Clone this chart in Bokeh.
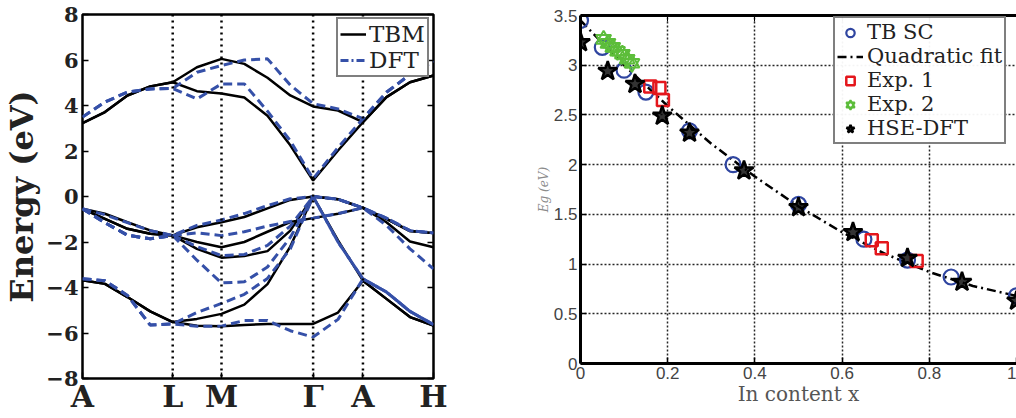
from bokeh.plotting import figure
from bokeh.layouts import row, column
from bokeh.models import Span, Legend, LegendItem, LinearAxis, FixedTicker, Range1d
from bokeh.embed import file_html
from bokeh.resources import INLINE

# ---------------- left panel data (band structure) ----------------
K = [0.0, 0.064, 0.128, 0.193, 0.257, 0.326, 0.396, 0.461, 0.527, 0.592,
     0.657, 0.728, 0.799, 0.866, 0.933, 1.0]
K_TICKS = [0.0, 0.257, 0.396, 0.657, 0.799, 1.0]
K_LABELS = ["A", "L", "M", "Γ", "A", "H"]
E_TICKS = [-8, -6, -4, -2, 0, 2, 4, 6, 8]
E_TICK_LABELS = ["−8", "−6", "−4", "−2", "0", "2", "4", "6", "8"]

tbm_c1 = [3.22, 3.71, 4.44, 4.84, 5.02, 4.63, 4.53, 4.35, 3.55, 2.25, 0.70, 2.02, 3.27, 4.37, 5.02, 5.32]
tbm_c2 = [3.22, 3.71, 4.44, 4.84, 5.02, 5.68, 6.05, 5.83, 5.22, 4.44, 3.96, 3.78, 3.27, 4.37, 5.02, 5.32]
tbm_v1 = [-0.54, -0.76, -1.13, -1.49, -1.71, -1.35, -1.13, -0.90, -0.52, -0.15, 0.0, -0.12, -0.50, -0.98, -1.52, -1.61]
tbm_v2 = [-0.54, -0.98, -1.42, -1.64, -1.71, -2.00, -2.23, -2.00, -1.55, -1.12, -0.95, -0.76, -0.50, -1.13, -1.98, -2.23]
tbm_v3 = [-0.54, -0.98, -1.42, -1.64, -1.71, -2.30, -2.69, -2.62, -2.40, -1.50, 0.0, -0.12, -0.50, -0.98, -1.52, -1.61]
tbm_v4 = [-3.68, -3.84, -4.42, -5.05, -5.52, -5.38, -5.16, -4.75, -3.85, -2.20, 0.0, -1.93, -3.70, -4.50, -5.30, -5.67]
tbm_v5 = [-3.68, -3.84, -4.42, -5.05, -5.52, -5.68, -5.70, -5.65, -5.60, -5.60, -5.60, -5.10, -3.70, -4.50, -5.30, -5.67]

dft_c1 = [3.49, 4.15, 4.59, 4.73, 4.75, 4.29, 4.95, 4.95, 3.75, 2.45, 0.78, 2.15, 3.42, 4.58, 5.36, 5.95]
dft_c2 = [3.49, 4.15, 4.59, 4.73, 4.75, 5.46, 5.76, 6.00, 6.05, 4.90, 4.08, 3.85, 3.42, 4.58, 5.36, 5.95]
dft_v1 = [-0.54, -0.80, -1.15, -1.50, -1.71, -1.27, -1.03, -0.75, -0.40, -0.10, 0.0, -0.12, -0.50, -0.95, -1.50, -1.60]
dft_v2 = [-0.54, -1.15, -1.70, -1.86, -1.71, -1.60, -1.72, -1.55, -1.30, -1.10, -0.95, -0.75, -0.50, -1.27, -2.30, -3.18]
dft_v3 = [-0.54, -1.15, -1.70, -1.86, -1.71, -2.20, -2.60, -2.55, -2.15, -1.30, 0.0, -0.12, -0.50, -0.95, -1.50, -1.60]
dft_v4 = [-0.54, -1.15, -1.70, -1.86, -1.71, -2.80, -3.80, -3.75, -3.10, -1.80, 0.0, -2.00, -3.62, -4.20, -5.05, -5.63]
dft_v5 = [-3.62, -3.70, -4.35, -5.65, -5.60, -5.10, -4.70, -4.30, -3.60, -2.30, 0.0, -2.00, -3.62, -4.20, -5.05, -5.63]
dft_v6 = [-3.62, -3.70, -4.35, -5.65, -5.60, -5.70, -5.70, -5.45, -5.45, -5.90, -6.18, -5.40, -3.62, -4.20, -5.05, -5.63]

TBM_BANDS = [tbm_c1, tbm_c2, tbm_v1, tbm_v2, tbm_v3, tbm_v4, tbm_v5]
DFT_BANDS = [dft_c1, dft_c2, dft_v1, dft_v2, dft_v3, dft_v4, dft_v5, dft_v6]

# ---------------- right panel data (band gap vs In content) ----------------
tb_x = [0.0, 0.05, 0.10, 0.15, 0.25, 0.35, 0.50, 0.65, 0.75, 0.85, 1.0]
tb_y = [3.45, 3.18, 2.95, 2.73, 2.34, 2.00, 1.60, 1.25, 1.04, 0.87, 0.68]
fit_x = [0.0, 0.1, 0.2, 0.3, 0.4, 0.5, 0.6, 0.7, 0.8, 0.9, 1.0]
fit_y = [3.45, 3.00, 2.59, 2.21, 1.88, 1.58, 1.32, 1.10, 0.92, 0.78, 0.68]
exp1_x = [0.160, 0.181, 0.189, 0.668, 0.691, 0.771]
exp1_y = [2.785, 2.77, 2.65, 1.24, 1.16, 1.03]
exp2_x = [0.053, 0.063, 0.074, 0.085, 0.096, 0.107, 0.118]
exp2_y = [3.26, 3.22, 3.18, 3.14, 3.11, 3.06, 3.02]
hse_x = [0.0, 0.0625, 0.125, 0.1875, 0.25, 0.375, 0.5, 0.625, 0.75, 0.875, 1.0]
hse_y = [3.23, 2.94, 2.81, 2.49, 2.32, 1.94, 1.57, 1.32, 1.06, 0.82, 0.63]
X_TICKS = [0, 0.2, 0.4, 0.6, 0.8, 1.0]
X_TICK_LABELS = ["0", "0.2", "0.4", "0.6", "0.8", "1"]
Y_TICKS = [0, 0.5, 1.0, 1.5, 2.0, 2.5, 3.0, 3.5]
Y_TICK_LABELS = ["0", "0.5", "1", "1.5", "2", "2.5", "3", "3.5"]

BLUE = "#3550a8"
SERIF = "DejaVu Serif"
NAN = float("nan")

# ================= left figure =================
left = figure(width=520, height=416, x_range=Range1d(0, 1), y_range=Range1d(-8, 8),
              output_backend="svg", toolbar_location=None,
              min_border_left=79, min_border_right=87, min_border_top=14, min_border_bottom=38)
left.xgrid.visible = False
left.ygrid.visible = False
left.outline_line_color = "black"
left.outline_line_width = 2.5
left.outline_line_alpha = 1

left.yaxis.ticker = FixedTicker(ticks=E_TICKS)
left.yaxis.major_label_overrides = dict(zip(E_TICKS, E_TICK_LABELS))
left.xaxis.ticker = FixedTicker(ticks=K_TICKS)
left.xaxis.major_label_overrides = dict(zip(K_TICKS, K_LABELS))
for ax in (left.xaxis[0], left.yaxis[0]):
    ax.axis_line_color = None
    ax.major_tick_in = 6
    ax.major_tick_out = 0
    ax.minor_tick_line_color = None
    ax.major_tick_line_width = 1.5
    ax.major_tick_line_color = "black"
    ax.major_label_text_font = SERIF
    ax.major_label_text_font_style = "bold"
    ax.major_label_text_color = "#222222"
left.yaxis.major_label_text_font_size = "21px"
left.yaxis.major_label_standoff = 4
left.yaxis.axis_label = "Energy (eV)"
left.yaxis.axis_label_text_font = SERIF
left.yaxis.axis_label_text_font_style = "bold"
left.yaxis.axis_label_text_font_size = "32px"
left.yaxis.axis_label_text_color = "#222222"
left.yaxis.axis_label_standoff = 2
left.xaxis.major_label_text_font_size = "30px"
left.xaxis.major_label_standoff = 0

rax = LinearAxis(ticker=FixedTicker(ticks=E_TICKS), axis_line_color=None,
                 major_tick_in=6, major_tick_out=0, minor_tick_line_color=None,
                 major_tick_line_width=1.5,
                 major_label_overrides={t: "" for t in E_TICKS})
left.add_layout(rax, "right")

for k in K_TICKS[1:5]:
    left.add_layout(Span(location=k, dimension="height", line_color="black",
                         line_dash="2 4", line_width=2.5))

tbm_renderers = []
for band in TBM_BANDS:
    tbm_renderers.append(left.line(K, band, line_color="black", line_width=2.5))
for band in DFT_BANDS:
    left.line(K, band, line_color=BLUE, line_width=3, line_dash="9 5")
# legend proxy (no visible points)
dft_legend_r = left.line(K[:2], [NAN, NAN], line_color=BLUE, line_width=3, line_dash="8 3 2 3")

leg_l = Legend(items=[LegendItem(label="TBM", renderers=[tbm_renderers[0]]),
                      LegendItem(label="DFT", renderers=[dft_legend_r])],
               location=(254, 301), orientation="vertical")
leg_l.border_line_color = "black"
leg_l.border_line_width = 2
leg_l.label_text_font = SERIF
leg_l.label_text_font_size = "23px"
leg_l.label_text_color = "#222222"
leg_l.padding = 2
leg_l.spacing = -4
leg_l.margin = 0
leg_l.glyph_width = 26
leg_l.glyph_height = 22
leg_l.label_height = 22
leg_l.label_standoff = 3
leg_l.background_fill_alpha = 1
left.add_layout(leg_l)

# ================= right figure =================
right = figure(width=496, height=416, x_range=Range1d(0, 1), y_range=Range1d(0, 3.5),
               output_backend="svg", toolbar_location=None,
               min_border_left=60, min_border_right=0, min_border_top=15, min_border_bottom=53)
right.outline_line_color = None
right.xaxis.ticker = FixedTicker(ticks=X_TICKS)
right.xaxis.major_label_overrides = dict(zip(X_TICKS, X_TICK_LABELS))
right.yaxis.ticker = FixedTicker(ticks=Y_TICKS)
right.yaxis.major_label_overrides = dict(zip(Y_TICKS, Y_TICK_LABELS))
for ax in (right.xaxis[0], right.yaxis[0]):
    ax.axis_line_color = "black"
    ax.axis_line_width = 3
    ax.major_tick_in = 6
    ax.major_tick_out = 0
    ax.minor_tick_line_color = None
    ax.major_tick_line_width = 1.5
    ax.major_label_text_font = "Liberation Sans"
    ax.major_label_text_font_size = "17px"
    ax.major_label_text_color = "#444444"
    ax.major_label_standoff = 3
right.xaxis.axis_label = "In content x"
right.xaxis.axis_label_text_font = SERIF
right.xaxis.axis_label_text_font_style = "normal"
right.xaxis.axis_label_text_font_size = "20px"
right.xaxis.axis_label_text_color = "#555555"
right.xaxis.axis_label_standoff = 0
right.yaxis.axis_label = "Eg (eV)"
right.yaxis.axis_label_text_font = SERIF
right.yaxis.axis_label_text_font_style = "italic"
right.yaxis.axis_label_text_font_size = "12px"
right.yaxis.axis_label_text_color = "#8a8a8a"
right.yaxis.axis_label_standoff = 0

top_ax = LinearAxis(ticker=FixedTicker(ticks=X_TICKS), axis_line_color="black", axis_line_width=3,
                    major_tick_in=6, major_tick_out=0, minor_tick_line_color=None,
                    major_label_overrides={t: "" for t in X_TICKS})
right.add_layout(top_ax, "above")
right.xgrid.ticker = FixedTicker(ticks=X_TICKS)
right.ygrid.ticker = FixedTicker(ticks=Y_TICKS)
for g in (right.xgrid[0], right.ygrid[0]):
    g.grid_line_color = "black"
    g.grid_line_dash = "2 2"
    g.grid_line_width = 1.5
    g.grid_line_alpha = 0.85

r_fit = right.line(fit_x, fit_y, line_color="black", line_width=2.5, line_dash="9 4 2 4")
r_tb = right.scatter(tb_x, tb_y, marker="circle", size=15, fill_color=None,
                     line_color="#2f45a0", line_width=2.2)
r_sq = right.scatter(exp1_x, exp1_y, marker="square", size=12, fill_color=None,
                     line_color="#e4161c", line_width=2.5)
r_t1 = right.scatter(exp2_x, exp2_y, marker="triangle", size=15, fill_color=None,
                     line_color="#5cbd3a", line_width=2)
r_t2 = right.scatter(exp2_x, exp2_y, marker="inverted_triangle", size=15, fill_color=None,
                     line_color="#5cbd3a", line_width=2)
r_hse = right.scatter(hse_x, hse_y, marker="star", size=20, fill_color="black", fill_alpha=0.8,
                      line_color="black", line_width=2.5)

leg_r = Legend(items=[LegendItem(label="TB SC", renderers=[r_tb]),
                      LegendItem(label="Quadratic fit", renderers=[r_fit]),
                      LegendItem(label="Exp. 1", renderers=[r_sq]),
                      LegendItem(label="Exp. 2", renderers=[r_t1, r_t2]),
                      LegendItem(label="HSE-DFT", renderers=[r_hse])],
               location=(253, 219), orientation="vertical")
leg_r.border_line_color = "black"
leg_r.border_line_width = 2.5
leg_r.label_text_font = SERIF
leg_r.label_text_font_size = "21px"
leg_r.label_text_color = "#222222"
leg_r.padding = 2
leg_r.spacing = -4
leg_r.margin = 0
leg_r.glyph_width = 26
leg_r.glyph_height = 21
leg_r.label_standoff = 4
leg_r.label_height = 21
right.add_layout(leg_r)

layout = row(column(left), column(right), spacing=0)
open("out.html", "w").write(file_html(layout, INLINE))
